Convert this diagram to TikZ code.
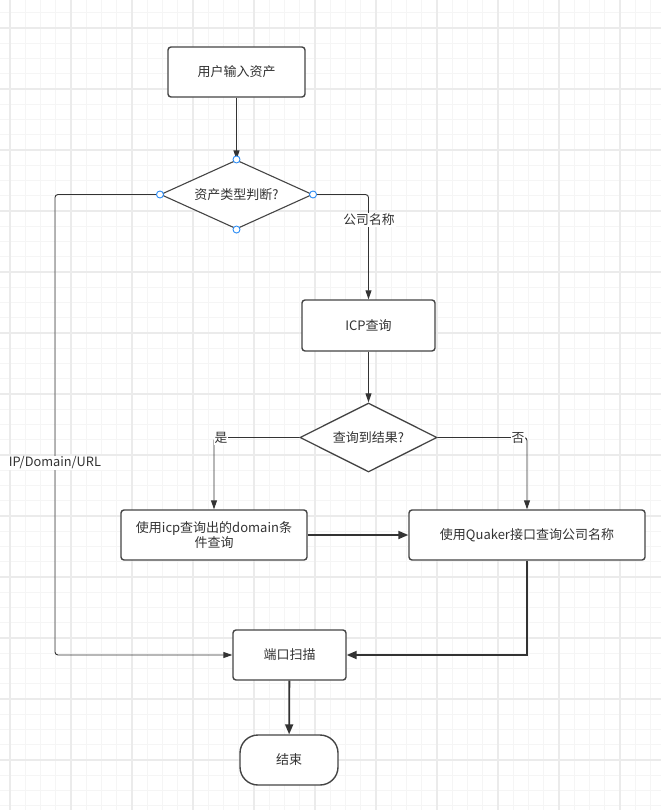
\documentclass[tikz,border=0pt]{standalone}
\usepackage{fontspec}
\setmainfont{Noto Sans CJK SC}
\usetikzlibrary{arrows.meta,shapes.geometric}
\definecolor{boxc}{HTML}{454545}
\definecolor{linec}{HTML}{333333}
\definecolor{txtc}{HTML}{333333}
\definecolor{gridminor}{HTML}{F5F5F5}
\definecolor{gridmajor}{HTML}{EBEBEB}
\definecolor{portc}{HTML}{2B8CF5}
\tikzset{
  stepbox/.style={draw=boxc, line width=1.4pt, rounded corners=3pt, fill=white,
    inner sep=0pt, text=txtc, font=\fontsize{13}{15.5}\selectfont, align=center},
  decide/.style={diamond, draw=boxc, line width=1.3pt, fill=white, inner sep=0pt,
    aspect=2, text=txtc, font=\fontsize{13}{15.5}\selectfont},
  thinline/.style={draw=linec, line width=0.9pt, rounded corners=3pt},
  thinarrow/.style={thinline, -{Triangle[length=9pt,width=6pt]}},
  thickarrow/.style={draw=linec, line width=1.8pt, -{Triangle[length=10pt,width=8pt]}},
  edgelabel/.style={fill=white, inner sep=1pt, text=txtc, font=\fontsize{12.8}{15}\selectfont},
  port/.style={circle, draw=portc, line width=0.9pt, fill=white, inner sep=0pt, minimum size=7pt}
}
\begin{document}
\begin{tikzpicture}[x=1pt,y=-1pt]
\useasboundingbox (0,0) rectangle (661,810);
\fill[white] (0,0) rectangle (661,810);
% grid
\foreach \i in {-1,...,44} {
  \draw[gridminor, line width=1pt] ({10+15.25*\i},0) -- ({10+15.25*\i},810);
}
\foreach \i in {-3,...,52} {
  \draw[gridminor, line width=1pt] (0,{28+15.25*\i}) -- (661,{28+15.25*\i});
}
\foreach \i in {0,...,11} {
  \draw[gridmajor, line width=1.2pt] ({10+61*\i},0) -- ({10+61*\i},810);
}
\foreach \i in {-1,...,13} {
  \draw[gridmajor, line width=1.2pt] (0,{28+61*\i}) -- (661,{28+61*\i});
}
% nodes
\node[stepbox, minimum width=137pt, minimum height=50pt] (input) at (236.5,72) {用户输入资产};
\node[decide, minimum width=152pt, minimum height=69pt, line width=1.1pt] (type) at (236.5,194.5) {资产类型判断?};
\node[stepbox, minimum width=133pt, minimum height=51pt] (icp) at (368.5,325.5) {ICP查询};
\node[decide, minimum width=137pt, minimum height=69pt] (found) at (368.5,437.5) {查询到结果?};
\node[stepbox, minimum width=186pt, minimum height=50pt] (dom) at (214,535) {使用icp查询出的domain条\\件查询};
\node[stepbox, minimum width=236pt, minimum height=50pt] (quaker) at (527,535) {使用Quaker接口查询公司名称};
\node[stepbox, minimum width=113pt, minimum height=50pt] (scan) at (289.5,655) {端口扫描};
\node[stepbox, minimum width=98pt, minimum height=50pt, rounded corners=18pt] (finish) at (289,760) {结束};
\coordinate (leftrail) at (55,0);
% connectors
\draw[thinarrow] (input) -- (type.north);
\draw[thinarrow] (type.west) -| (leftrail |- scan.west) -- (scan.west);
\draw[thinarrow] (type.east) -| (icp.north);
\draw[thinarrow] (icp) -- (found.north);
\draw[thinarrow] (found.west) -| (dom.north);
\draw[thinarrow] (found.east) -| (quaker.north);
\draw[thickarrow] (dom) -- (quaker);
\draw[thickarrow] (quaker.south) |- (scan.east);
\draw[thickarrow] (scan) -- (finish);
% labels
\node[edgelabel] (lip) at (55,463) {IP/Domain/URL};
\node[edgelabel] (lco) at (369,220) {公司名称};
\node[edgelabel] (lyes) at (221,438) {是};
\node[edgelabel] (lno) at (518,438) {否};
% ports on first decision
\node[port] (p1) at (type.north) {};
\node[port] (p2) at (type.south) {};
\node[port] (p3) at (type.west) {};
\node[port] (p4) at (type.east) {};
\end{tikzpicture}
\end{document}
